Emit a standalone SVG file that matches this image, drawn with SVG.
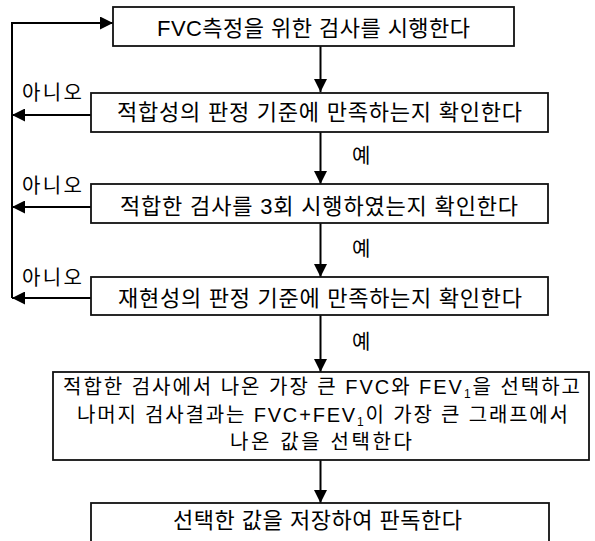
<svg xmlns="http://www.w3.org/2000/svg" width="595" height="541" viewBox="0 0 595 541">
<style>
.box{fill:#fff;stroke:#111;stroke-width:1.8}
.t{font-family:"Liberation Sans","Noto Sans CJK KR",sans-serif;font-size:22px;fill:#000}
.t5{font-family:"Liberation Sans","Noto Sans CJK KR",sans-serif;font-size:20px;fill:#000}
.lbl{font-family:"Liberation Sans","Noto Sans CJK KR",sans-serif;font-size:20px;fill:#000}
.c{fill:none;stroke:#000;stroke-width:2}
</style>
<defs>
<marker id="ah" viewBox="0 0 13 13" refX="13" refY="6.5" markerWidth="13" markerHeight="13" markerUnits="userSpaceOnUse" orient="auto">
<path d="M0,0 L13,6.5 L0,13 Z" fill="#000"/>
</marker>
</defs>
<rect width="595" height="541" fill="#fff"/>
<g id="connectors">
<line class="c" x1="320.5" y1="46" x2="320.5" y2="92" marker-end="url(#ah)"/>
<line class="c" x1="320.5" y1="132" x2="320.5" y2="184" marker-end="url(#ah)"/>
<line class="c" x1="320.5" y1="223" x2="320.5" y2="277" marker-end="url(#ah)"/>
<line class="c" x1="320.5" y1="315" x2="320.5" y2="372" marker-end="url(#ah)"/>
<line class="c" x1="320.5" y1="460" x2="320.5" y2="503" marker-end="url(#ah)"/>
<line class="c" x1="91" y1="115" x2="12" y2="115" marker-end="url(#ah)"/>
<line class="c" x1="91" y1="207" x2="12" y2="207" marker-end="url(#ah)"/>
<line class="c" x1="91" y1="298" x2="12" y2="298" marker-end="url(#ah)"/>
<polyline class="c" points="12,298 12,23 113,23" marker-end="url(#ah)"/>
<text class="lbl" x="22" y="100" textLength="60">아니오</text>
<text class="lbl" x="22" y="193" textLength="60">아니오</text>
<text class="lbl" x="22" y="285" textLength="60">아니오</text>
<text class="lbl" x="352" y="163">예</text>
<text class="lbl" x="352" y="256">예</text>
<text class="lbl" x="352" y="349">예</text>
</g>
<g id="n1">
<rect class="box" x="113" y="7" width="401" height="39"/>
<text class="t" x="157" y="36" textLength="313">FVC측정을 위한 검사를 시행한다</text>
</g>
<g id="n2">
<rect class="box" x="91" y="93" width="457" height="39"/>
<text class="t" x="117" y="120" textLength="405">적합성의 판정 기준에 만족하는지 확인한다</text>
</g>
<g id="n3">
<rect class="box" x="91" y="184" width="457" height="39"/>
<text class="t" x="120" y="214" textLength="398">적합한 검사를 3회 시행하였는지 확인한다</text>
</g>
<g id="n4">
<rect class="box" x="91" y="277" width="457" height="38"/>
<text class="t" x="118" y="306" textLength="404">재현성의 판정 기준에 만족하는지 확인한다</text>
</g>
<g id="n5">
<rect class="box" x="53" y="372" width="536" height="88"/>
<text class="t5" x="63" y="394" textLength="517">적합한 검사에서 나온 가장 큰 FVC와 FEV<tspan font-size="12" dy="4">1</tspan><tspan dy="-4">을 선택하고</tspan></text>
<text class="t5" x="77" y="421.5" textLength="491">나머지 검사결과는 FVC+FEV<tspan font-size="12" dy="4">1</tspan><tspan dy="-4">이 가장 큰 그래프에서</tspan></text>
<text class="t5" x="230" y="449" textLength="182">나온 값을 선택한다</text>
</g>
<g id="n6">
<rect class="box" x="91" y="503" width="458" height="45"/>
<text class="t" x="173" y="528" textLength="289">선택한 값을 저장하여 판독한다</text>
</g>
</svg>
